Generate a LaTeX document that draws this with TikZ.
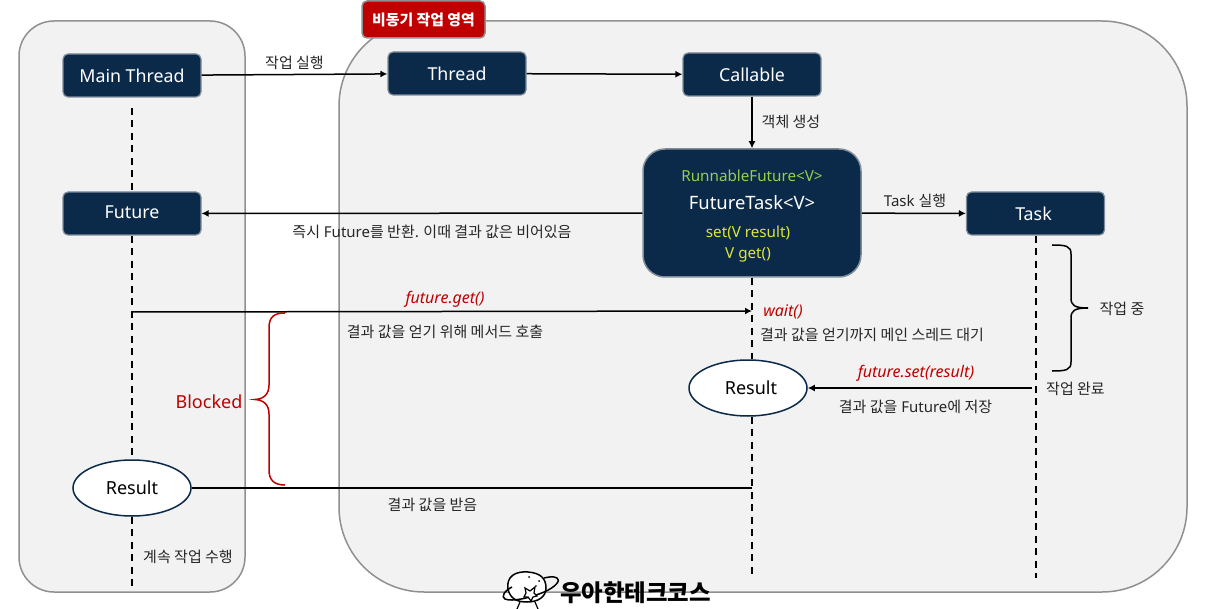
\documentclass[tikz,border=0pt]{standalone}
\usepackage{fontspec}
\setmainfont{Noto Sans}
\newfontfamily\kr{Noto Sans CJK KR}
\usetikzlibrary{arrows.meta,shapes.geometric}
\definecolor{navy}{HTML}{0B2A4A}
\definecolor{panelfill}{HTML}{F2F2F2}
\definecolor{panelline}{HTML}{8F9090}
\definecolor{boxline}{HTML}{7F8C99}
\definecolor{darkred}{HTML}{C00000}
\definecolor{lime}{HTML}{92D050}
\definecolor{lemon}{HTML}{DDE63C}
\definecolor{labeltext}{HTML}{262626}
\newcommand{\lowered}[2]{\raisebox{#1}{#2}}
\tikzset{
  x=1pt,y=-1pt,
  panel/.style={draw=panelline,fill=panelfill,line width=1.5pt},
  darkbox/.style={draw=boxline,fill=navy,line width=1.2pt,rounded corners=5pt,minimum width=138pt,minimum height=43pt,inner sep=0pt,text=white,font=\fontsize{17.8}{20}\selectfont},
  resultnode/.style={ellipse,draw=navy,fill=white,line width=1.5pt,minimum width=118pt,minimum height=56pt,inner sep=0pt,text=black,font=\fontsize{18}{20}\selectfont},
  conn/.style={draw=black,line width=1.5pt},
  arrow/.style={conn,-{Latex[length=7pt,width=7pt]}},
  life/.style={draw=black,line width=1.5pt,dash pattern=on 7pt off 5.5pt},
  note/.style={text=labeltext,font=\fontsize{15}{17}\selectfont,inner sep=0pt},
  krnote/.style={text=labeltext,font=\kr\fontsize{15}{17}\selectfont,inner sep=0pt},
  rednote/.style={text=darkred,font=\fontsize{16}{18}\selectfont\itshape,inner sep=0pt},
  inner/.style={inner sep=0pt,font=\fontsize{15.2}{17}\selectfont},
}
\begin{document}
\begin{tikzpicture}
\useasboundingbox (0,0) rectangle (1209,609);
\fill[white] (0,0) rectangle (1209,609);
% panels
\path[panel,rounded corners=35pt] (19,21) rectangle (245,592);
\path[panel,rounded corners=85pt] (339,21) rectangle (1187,592);
% area label
\node[draw=panelline,fill=darkred,line width=1.5pt,rounded corners=5pt,minimum width=123pt,minimum height=37pt,inner sep=0pt,text=white,font=\kr\bfseries\fontsize{14.9}{17}\selectfont] (area) at (423.5,19.5) {비동기 작업 영역};
% boxes
\node[darkbox] (mt) at (132,75.5) {\lowered{-1pt}{Main Thread}};
\node[darkbox] (th) at (457,73.5) {\lowered{-4pt}{Thread}};
\node[darkbox] (ca) at (752,74.5) {\lowered{-4pt}{Callable}};
\node[darkbox] (fu) at (132,213.5) {\lowered{3pt}{Future}};
\node[darkbox] (ta) at (1035.5,213.5) {\hspace{-4pt}\lowered{-2pt}{Task}};
\node[draw=boxline,fill=navy,line width=1.5pt,rounded corners=22pt,minimum width=218pt,minimum height=128pt,inner sep=0pt] (ft) at (752,213) {};
\node[inner,text=lime] (ft1) at (752,176) {RunnableFuture<V>};
\node[inner,text=white,font=\fontsize{18.4}{20}\selectfont] (ft2) at (752,203) {FutureTask<V>};
\node[inner,text=lemon] (ft3) at (748,232.5) {set(V result)};
\node[inner,text=lemon] (ft4) at (748,255) {V get()};
\node[resultnode] (r1) at (748,388) {\hspace{6pt}Result};
\node[resultnode] (r2) at (132,488) {Result};
% free ends
\coordinate (mtd) at (132,108);
\coordinate (getstart) at (132,312);
\coordinate (getend) at (752,311);
\coordinate (r2end) at (752,488);
\coordinate (l1end) at (132,588);
\coordinate (l2end) at (752,576);
\coordinate (l3end) at (1036,578);
\coordinate (setstart) at (1032,388);
% lifelines
\draw[life] (mtd) -- (fu.north -| mtd);
\draw[life] (fu.south) -- (r2.north);
\draw[life] (r2.south) -- (l1end);
\draw[life] (ft.south) -- (r1.north -| ft.south);
\draw[life] (r1.south -| ft.south) -- (l2end);
\draw[life] (ta.south -| l3end) -- (l3end);
% connectors
\draw[arrow] (mt) -- (th);
\draw[arrow] (th) -- (ca);
\draw[arrow] (ca) -- (ft);
\draw[arrow] (ft) -- (fu);
\draw[arrow] (ft) -- (ta);
\draw[arrow] (getstart) -- (getend);
\draw[conn] (r2) -- (r2end);
\draw[arrow] (setstart) -- (r1);
% braces
\draw[darkred,line width=1.5pt] (285,313) .. controls (274,313) and (269,317) .. (269,328) -- (269,385) .. controls (269,394) and (264,399) .. (255,399.5) .. controls (264,400) and (269,405) .. (269,414) -- (269,470) .. controls (269,480) and (274,485) .. (285,485);
\draw[black,line width=1.5pt] (1052,245) .. controls (1066,245) and (1071,246) .. (1071,254) -- (1071,298) .. controls (1071,305) and (1074,308) .. (1088,308) .. controls (1074,308) and (1071,311) .. (1071,318) -- (1071,362) .. controls (1071,370) and (1066,371) .. (1052,371);
% labels
\node[krnote] (n1) at (294.5,62.5) {작업 실행};
\node[krnote] (n2) at (791,121.5) {객체 생성};
\node[note] (n3) at (915,200.5) {Task {\kr 실행}};
\node[note] (n4) at (432,232) {{\kr 즉시} Future{\kr 를 반환. 이때 결과 값은 비어있음}};
\node[krnote] (n5) at (1122,308.5) {작업 중};
\node[rednote] (n6) at (445,299) {future.get()};
\node[krnote] (n7) at (445,331.5) {결과 값을 얻기 위해 메서드 호출};
\node[rednote] (n8) at (783,311.5) {wait()};
\node[krnote] (n9) at (872,335) {결과 값을 얻기까지 메인 스레드 대기};
\node[rednote] (n10) at (916,373) {future.set(result)};
\node[krnote] (n11) at (1075.5,389) {작업 완료};
\node[note] (n12) at (915.5,407) {{\kr 결과 값을} Future{\kr 에 저장}};
\node[krnote] (n13) at (432.5,504.5) {결과 값을 받음};
\node[krnote] (n14) at (188,557) {계속 작업 수행};
\node[inner sep=0pt,text=darkred,font=\fontsize{18}{20}\selectfont] (n15) at (209,401.5) {Blocked};
% logo
\draw[black,line width=1.5pt,fill=white] (508,589) .. controls (506,576) and (516,571) .. (528,572) .. controls (540,573) and (546,578) .. (546,588) .. controls (546,597) and (538,602) .. (527,602) .. controls (516,602) and (510,598) .. (508,589) -- cycle;
\draw[black,line width=1.5pt] (512,587) .. controls (504,591) and (501,597) .. (505,599) .. controls (512,602) and (530,598) .. (544,592) .. controls (556,587) and (561,580) .. (557,578) .. controls (554,576) and (548,577) .. (544,578);
\draw[black,line width=1.2pt,fill=white] (525,588) -- (530,591) -- (535,587) -- (534,593) -- (537,596) -- (533,597) -- (531,601) -- (528,597) -- (524,597) -- (526,593) -- cycle;
\fill[black] (529,577) circle (1pt) (539,581) circle (1pt) (536,586) circle (.8pt);
\draw[black,line width=1.2pt] (520,602) -- (517,609) (535,602) -- (538,609);
\node[inner sep=0pt,text=black,font=\kr\bfseries\fontsize{23.4}{26}\selectfont] (logo) at (635.5,592.5) {우아한테크코스};
\end{tikzpicture}
\end{document}
